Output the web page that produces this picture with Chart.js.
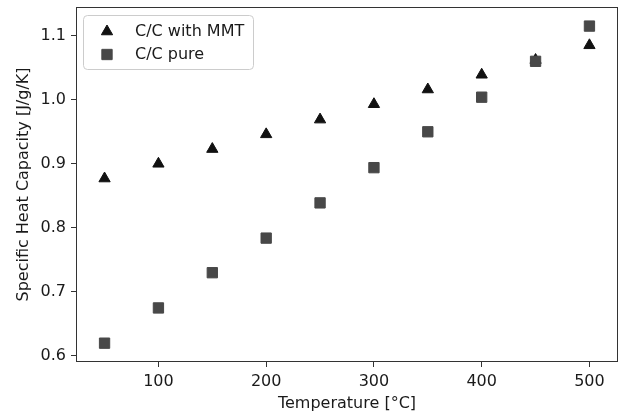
<!DOCTYPE html>
<html>
<head>
<meta charset="utf-8">
<script src="https://cdn.jsdelivr.net/npm/chart.js@4/dist/chart.umd.min.js"></script>
<style>
  html, body { margin: 0; padding: 0; background: #fff; }
  canvas { display: block; }
</style>
</head>
<body>
<canvas id="chart" width="621" height="414"></canvas>
<script>
// Data
const temperatures = [50, 100, 150, 200, 250, 300, 350, 400, 450, 500];
const withMMT = [0.877, 0.900, 0.923, 0.946, 0.969, 0.993, 1.016, 1.039, 1.062, 1.085];
const pure = [0.620, 0.675, 0.730, 0.784, 0.839, 0.894, 0.950, 1.004, 1.060, 1.115];
const xTicks = [100, 200, 300, 400, 500];
const yTicks = [0.6, 0.7, 0.8, 0.9, 1.0, 1.1];
const seriesLabels = ["C/C with MMT", "C/C pure"];

const FONT = "'DejaVu Sans', sans-serif";
const TEXT = "#1a1a1a";
const AXIS = "#333333";

function toPoints(ys) {
    return temperatures.map((t, i) => ({ x: t, y: ys[i] }));
}

// Draw a marker the same way for the legend
function drawMarker(ctx, style, x, y, r, color) {
    ctx.fillStyle = color;
    ctx.strokeStyle = color;
    ctx.lineWidth = 1;
    ctx.beginPath();
    if (style === "triangle") {
        ctx.moveTo(x, y - r);
        ctx.lineTo(x + Math.sin(2 * Math.PI / 3) * r, y + r / 2);
        ctx.lineTo(x - Math.sin(2 * Math.PI / 3) * r, y + r / 2);
        ctx.closePath();
    } else {
        const s = Math.SQRT1_2 * r;
        ctx.rect(x - s, y - s, 2 * s, 2 * s);
    }
    ctx.fill();
    ctx.stroke();
}

// Frame around the plot area + matplotlib-like legend
const framePlugin = {
    id: "frame",
    afterDatasetsDraw(chart) {
        const { ctx, chartArea: a } = chart;
        ctx.save();
        ctx.strokeStyle = AXIS;
        ctx.lineWidth = 1;
        ctx.strokeRect(a.left + 0.5, a.top + 0.5, a.right - a.left - 1, a.bottom - a.top - 1);

        // legend
        const lx = a.left + 7, ly = a.top + 8, lw = 170, lh = 54;
        ctx.fillStyle = "rgba(255,255,255,0.8)";
        ctx.strokeStyle = "#cccccc";
        ctx.beginPath();
        ctx.roundRect(lx + 0.5, ly + 0.5, lw, lh, 4);
        ctx.fill();
        ctx.stroke();

        const metas = [chart.data.datasets[0], chart.data.datasets[1]];
        metas.forEach((ds, i) => {
            const cy = ly + 16.5 + i * 23;
            drawMarker(ctx, ds.pointStyle, lx + 24, cy, ds.pointRadius, ds.backgroundColor);
            ctx.fillStyle = TEXT;
            ctx.font = "16px " + FONT;
            ctx.textBaseline = "alphabetic";
            ctx.textAlign = "left";
            ctx.fillText(ds.label, lx + 52, cy + 4 + i * 0.5);
        });
        ctx.restore();
    }
};

new Chart(document.getElementById("chart"), {
    type: "scatter",
    data: {
        datasets: [
            {
                label: seriesLabels[0],
                data: toPoints(withMMT),
                pointStyle: "triangle",
                pointRadius: 6.5,
                pointHoverRadius: 6.5,
                borderWidth: 1,
                backgroundColor: "#111111",
                borderColor: "#111111",
                order: 1
            },
            {
                label: seriesLabels[1],
                data: toPoints(pure),
                pointStyle: "rect",
                pointRadius: 7.3,
                pointHoverRadius: 7.3,
                borderWidth: 1,
                backgroundColor: "#484848",
                borderColor: "#484848",
                order: 0
            }
        ]
    },
    options: {
        responsive: false,
        animation: false,
        events: [],
        layout: { autoPadding: false, padding: { left: 0, right: 3, top: 7, bottom: 0 } },
        plugins: {
            legend: { display: false },
            tooltip: { enabled: false }
        },
        scales: {
            x: {
                type: "linear",
                min: 23.5,
                max: 526.5,
                afterFit: (s) => { s.height = 52; s.paddingLeft = 0; s.paddingRight = 0; },
                afterBuildTicks: (s) => { s.ticks = xTicks.map(v => ({ value: v })); },
                grid: { drawOnChartArea: false, tickLength: 5, tickColor: AXIS },
                border: { display: false },
                ticks: {
                    color: TEXT,
                    padding: 5,
                    font: { family: FONT, size: 16 },
                    callback: (v) => String(v)
                },
                title: {
                    display: true,
                    text: "Temperature [°C]",
                    color: TEXT,
                    font: { family: FONT, size: 16 },
                    padding: { top: 0, bottom: 1 }
                }
            },
            y: {
                type: "linear",
                min: 0.5906,
                max: 1.1448,
                afterFit: (s) => { s.width = 76; s.paddingTop = 0; s.paddingBottom = 0; },
                afterBuildTicks: (s) => { s.ticks = yTicks.map(v => ({ value: v })); },
                grid: { drawOnChartArea: false, tickLength: 5, tickColor: AXIS },
                border: { display: false },
                ticks: {
                    color: TEXT,
                    padding: 5,
                    font: { family: FONT, size: 16 },
                    callback: (v) => Number(v).toFixed(1)
                },
                title: {
                    display: true,
                    text: "Specific Heat Capacity [J/g/K]",
                    color: TEXT,
                    font: { family: FONT, size: 16 },
                    padding: { top: 14, bottom: 0 }
                }
            }
        }
    },
    plugins: [framePlugin]
});
</script>
</body>
</html>
